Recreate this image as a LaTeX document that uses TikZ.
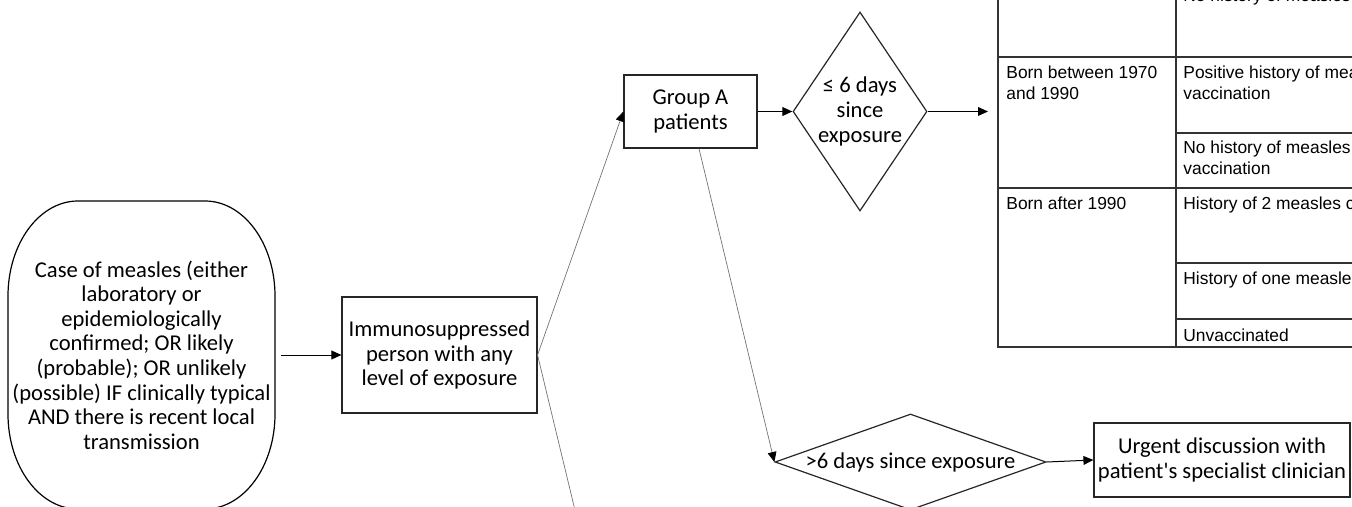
\documentclass[tikz,border=0pt]{standalone}
\usepackage{fontspec}
\setmainfont{Carlito}
\newfontfamily\arialfont{Liberation Sans}
\usetikzlibrary{arrows.meta,shapes.geometric}

\begin{document}
\begin{tikzpicture}[x=0.5pt,y=-0.5pt,
    box/.style={draw=black!85,line width=0.6pt,align=center,font=\fontsize{11.3}{12.3}\selectfont},
    decision/.style={diamond,draw=black!85,line width=0.6pt,align=center,inner sep=0pt,font=\fontsize{11.3}{12.3}\selectfont},
    link/.style={line width=0.5pt,-{Triangle[length=5pt,width=4.4pt,color=black]}},
    thinlink/.style={draw=black!55,line width=0.35pt},
    cell/.style={anchor=base west,inner sep=0pt,align=left,font=\arialfont\fontsize{8.7}{10.5}\selectfont},
    grid/.style={draw=black!80,line width=0.7pt}]
        \useasboundingbox (0,0) rectangle (1352,507);
        \clip (0,0) rectangle (1352,507);
        % flow nodes
        \node[align=center,inner sep=0pt,minimum width=133.5pt,minimum height=154pt,font=\fontsize{11.3}{12.3}\selectfont] (case) at (141.5,355)
            {Case of measles (either\\laboratory or\\epidemiologically\\confirmed; OR likely\\(probable); OR unlikely\\(possible) IF clinically typical\\AND there is recent local\\transmission};
        \node[box,minimum width=96.5pt,minimum height=58pt] (immuno) at (439.5,355) {Immunosuppressed\\person with any\\level of exposure};
        \node[box,minimum width=66.5pt,minimum height=36.5pt] (groupA) at (690.5,111.5) {Group A\\patients};
        \node[decision,minimum width=67pt,minimum height=99.5pt,aspect=0.67] (lt6) at (860,111.5) {≤ 6 days\\since\\exposure};
        \node[decision,minimum width=135.5pt,minimum height=48pt,aspect=2.8] (gt6) at (910.5,462) {>6 days since exposure};
        \node[box,inner sep=1pt,minimum width=128pt,minimum height=37pt] (urgent) at (1222,460) {Urgent discussion with\\patient\textquotesingle s specialist clinician};
        \draw[line width=0.6pt] (case.center) ++(-31.75pt,77pt) -- ++(63.5pt,0)
            arc[start angle=90,end angle=0,x radius=35pt,y radius=47.5pt] -- ++(0,-59pt)
            arc[start angle=0,end angle=-90,x radius=35pt,y radius=47.5pt] -- ++(-63.5pt,0)
            arc[start angle=270,end angle=180,x radius=35pt,y radius=47.5pt] -- ++(0,59pt)
            arc[start angle=180,end angle=90,x radius=35pt,y radius=47.5pt] -- cycle;
        % table
        \draw[grid] (998,-10) -- (998,347) -- (1400,347);
        \draw[grid] (1176,-10) -- (1176,347);
        \draw[grid] (998,57) -- (1400,57);
        \draw[grid] (998,188) -- (1400,188);
        \foreach \y in {133,263,319} \draw[grid] (1176,\y) -- (1400,\y);
        \node[cell] (born70) at (1006,100) {Born between 1970\\and 1990};
        \node[cell] (born90) at (1006,210) {Born after 1990};
        \node[cell] (hist0) at (1183,2) {No history of measles};
        \node[cell] (hist1) at (1183,100) {Positive history of measles\\vaccination};
        \node[cell] (hist2) at (1183,175) {No history of measles\\vaccination};
        \node[cell] (hist3) at (1183,210) {History of 2 measles containing};
        \node[cell] (hist4) at (1183,285) {History of one measles};
        \node[cell] (hist5) at (1183,341) {Unvaccinated};
        % connectors
        \coordinate (tblin) at (988,111.5);
        \coordinate (toB) at (587,560);
        \draw[link,shorten <=3pt] (case.east) -- (immuno.west);
        \draw[link,thinlink] (immuno.east) -- (groupA.west);
        \draw[thinlink] (immuno.east) -- (toB);
        \draw[link] (groupA.east) -- (lt6.west);
        \draw[link] (lt6.east) -- (tblin);
        \draw[link,thinlink] ([xshift=4.25pt]groupA.south) -- (gt6.west);
        \draw[link] (gt6.east) -- (urgent.west);
    \end{tikzpicture}
\end{document}
